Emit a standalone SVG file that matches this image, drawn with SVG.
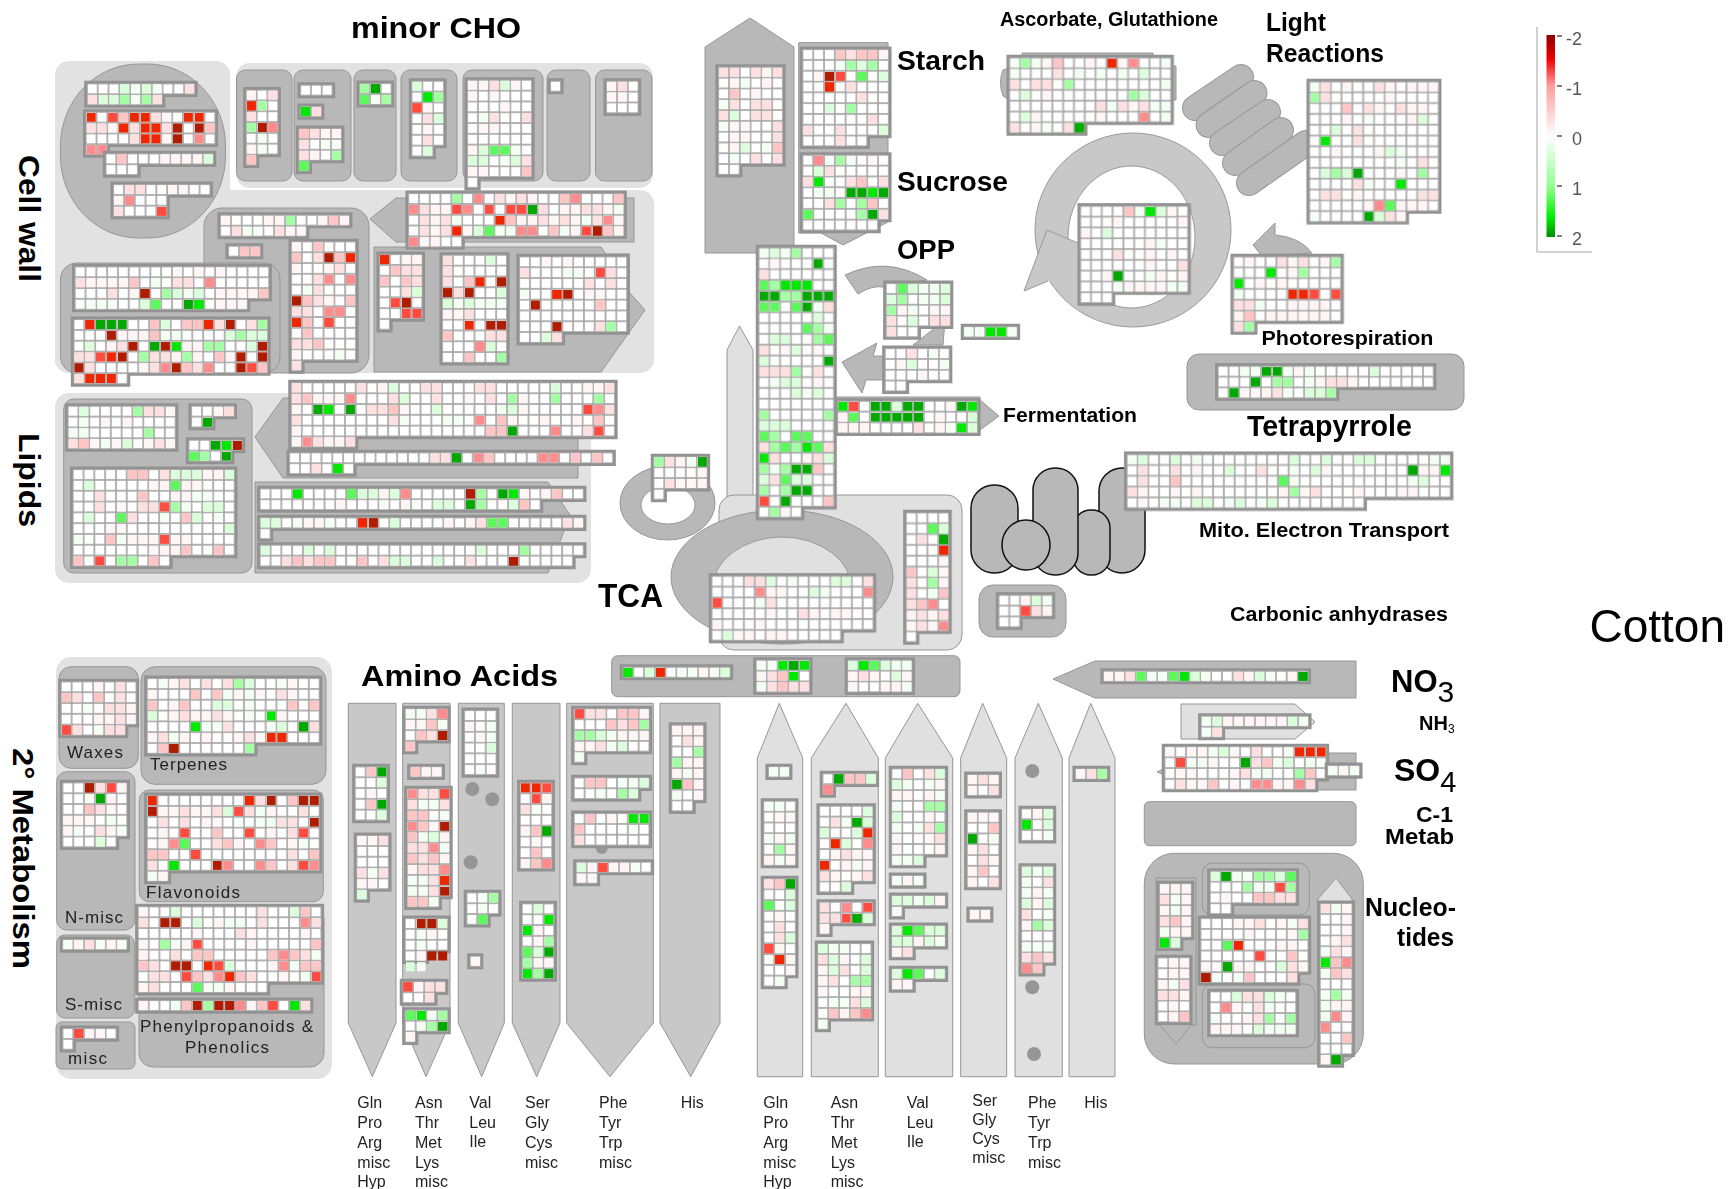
<svg xmlns="http://www.w3.org/2000/svg" width="1733" height="1189" viewBox="0 0 1733 1189">
<defs>
<style>
text{font-family:"Liberation Sans",Arial,sans-serif;fill:#000}
.B{font-weight:bold}.L{font-size:16px;fill:#222}.S{font-size:17px;fill:#222}
path{fill:none}
.P{fill:#e2e2e2!important}
.Q{fill:#b8b8b8!important;stroke:#969696;stroke-width:1}
.D{fill:#c8c8c8!important;stroke:#969696;stroke-width:1}
.E{fill:#e0e0e0!important;stroke:#969696;stroke-width:1}
.M{fill:#b8b8b8!important;stroke:#111;stroke-width:1.5}
.R{fill:#c8c8c8!important;stroke:#999;stroke-width:1}
.P,.Q,.D,.E,.M,.R{stroke-linejoin:round}
.dot{fill:#969696}
.o{fill:url(#t);stroke:#929292;stroke-width:.5;paint-order:stroke;transform:translate(-.08px,-.08px)}
.a{marker:url(#a)}.b{marker:url(#b)}.c{marker:url(#c)}.d{marker:url(#d)}.e{marker:url(#e)}.f{marker:url(#f)}.g{marker:url(#g)}
.h{marker:url(#h)}.i{marker:url(#i)}.j{marker:url(#j)}.k{marker:url(#k)}.l{marker:url(#l)}.m{marker:url(#m)}
</style>
<filter id="bl" filterUnits="userSpaceOnUse" x="0" y="0" width="1733" height="1189"><feGaussianBlur stdDeviation=".4"/></filter>
<pattern id="t" patternUnits="userSpaceOnUse" width="1" height="1"><rect width="1" height="1" fill="#a8a8a8"/><rect x=".08" y=".08" width=".84" height=".84" fill="#fff"/></pattern>
<linearGradient id="lg" x1="0" y1="0" x2="0" y2="1"><stop offset="0" stop-color="#8c0000"/><stop offset=".12" stop-color="#f00000"/><stop offset=".25" stop-color="#ff9c9c"/><stop offset=".5" stop-color="#fff"/><stop offset=".75" stop-color="#90ff90"/><stop offset=".9" stop-color="#00f000"/><stop offset="1" stop-color="#008c00"/></linearGradient>
<marker id="a" markerUnits="userSpaceOnUse" markerWidth="1" markerHeight="1"><rect width=".84" height=".84" fill="#fff5f5"/></marker>
<marker id="b" markerUnits="userSpaceOnUse" markerWidth="1" markerHeight="1"><rect width=".84" height=".84" fill="#ffe0e0"/></marker>
<marker id="c" markerUnits="userSpaceOnUse" markerWidth="1" markerHeight="1"><rect width=".84" height=".84" fill="#ffc4c4"/></marker>
<marker id="d" markerUnits="userSpaceOnUse" markerWidth="1" markerHeight="1"><rect width=".84" height=".84" fill="#ff8c8c"/></marker>
<marker id="e" markerUnits="userSpaceOnUse" markerWidth="1" markerHeight="1"><rect width=".84" height=".84" fill="#ff4c40"/></marker>
<marker id="f" markerUnits="userSpaceOnUse" markerWidth="1" markerHeight="1"><rect width=".84" height=".84" fill="#f02800"/></marker>
<marker id="g" markerUnits="userSpaceOnUse" markerWidth="1" markerHeight="1"><rect width=".84" height=".84" fill="#b01c00"/></marker>
<marker id="h" markerUnits="userSpaceOnUse" markerWidth="1" markerHeight="1"><rect width=".84" height=".84" fill="#f2fff2"/></marker>
<marker id="i" markerUnits="userSpaceOnUse" markerWidth="1" markerHeight="1"><rect width=".84" height=".84" fill="#daffda"/></marker>
<marker id="j" markerUnits="userSpaceOnUse" markerWidth="1" markerHeight="1"><rect width=".84" height=".84" fill="#a4ffa4"/></marker>
<marker id="k" markerUnits="userSpaceOnUse" markerWidth="1" markerHeight="1"><rect width=".84" height=".84" fill="#5cf85c"/></marker>
<marker id="l" markerUnits="userSpaceOnUse" markerWidth="1" markerHeight="1"><rect width=".84" height=".84" fill="#00e800"/></marker>
<marker id="m" markerUnits="userSpaceOnUse" markerWidth="1" markerHeight="1"><rect width=".84" height=".84" fill="#00a800"/></marker>
</defs>
<rect width="1733" height="1189" fill="#fff"/>
<g id="backgrounds">
<rect class="P" x="55" y="61" width="175" height="312" rx="14"/><rect class="P" x="236" y="63" width="417" height="125" rx="14"/><rect class="P" x="55" y="190" width="599" height="183" rx="14"/>
<rect class="P" x="55" y="393" width="536" height="190" rx="14"/>
<rect class="P" x="56" y="657" width="276" height="422" rx="15"/>
<rect class="Q" x="60.5" y="64" width="165" height="174" rx="78" ry="82"/>
<rect class="Q" x="236.5" y="70" width="55.5" height="111" rx="9"/><rect class="Q" x="294" y="70" width="57" height="111" rx="9"/><rect class="Q" x="354" y="70" width="42" height="111" rx="9"/><rect class="Q" x="401" y="70" width="56" height="111" rx="9"/><rect class="Q" x="463" y="70" width="80" height="111" rx="9"/><rect class="Q" x="547" y="70" width="43" height="111" rx="9"/><rect class="Q" x="595.5" y="70" width="56.5" height="111" rx="9"/>
<rect class="Q" x="204" y="208" width="165" height="165" rx="18"/>
<rect class="Q" x="60.5" y="263" width="219.5" height="110" rx="16"/>
<path class="Q" d="M370 219 396 198H634V242H396Z"/>
<path class="Q" d="M374 247H601L606 254H629V292L645 310 601 372H374Z"/>
<rect class="Q" x="63.7" y="399" width="188.3" height="174" rx="10"/>
<path class="Q" d="M255 437 283 398H578V478H283Z"/>
<path class="Q" d="M255 482H548L570 515 548 573H255Z"/>
<rect class="Q" x="59" y="666.7" width="79.3" height="101.6" rx="12"/><rect class="Q" x="141" y="666.7" width="185" height="117.6" rx="14"/><rect class="Q" x="56.7" y="771.7" width="78.3" height="158.3" rx="10"/><rect class="Q" x="139.3" y="790" width="184" height="111.7" rx="10"/><rect class="Q" x="56.7" y="935" width="77.6" height="83" rx="8"/><rect class="Q" x="56" y="1022" width="79" height="47" rx="6"/><rect class="Q" x="139" y="905" width="185" height="162" rx="14"/>
<path class="Q" d="M705 47 750 18 794 47V253H705Z"/>
<rect class="Q" x="798.7" y="42.7" width="89.3" height="114"/>
<path class="Q" d="M798.7 157H888V222L843 245 821 233H798.7Z"/>
<path class="Q" d="M845 275Q887 255 927 280L883 287Q872 285 858 294Z"/>
<path class="Q" d="M913 345 945 320 943 345Z"/>
<path class="Q" d="M842 362 877 343 873 356H890V380H866L862 393Z"/>
<path class="Q" d="M835 397H980V400L999 416 980 430V435H835Z"/>
<path class="Q" d="M1022 53H1153V66H1176V100H1153V110H1022V107L1003 96Q998 82 1003 70L1022 64Z"/>
<path class="R" style="fill-rule:evenodd" d="M1035 230A98 97 0 1 1 1231 230 98 97 0 1 1 1035 230ZM1068 237A63.500 71 0 1 0 1195 237 63.500 71 0 1 0 1068 237Z"/>
<path d="M1047 230 1078 243 1080 283 1048 281 1024 291Z" style="fill:#c8c8c8"/>
<path d="M1078 243 1047 230 1024 291 1048 281" stroke="#999"/>
<path d="M1195 108 1241 77" stroke="#969696" stroke-width="26" stroke-linecap="round"/><path d="M1195 108 1241 77" stroke="#b8b8b8" stroke-width="24" stroke-linecap="round"/><path d="M1208.600 125 1254.500 93" stroke="#969696" stroke-width="26" stroke-linecap="round"/><path d="M1208.600 125 1254.500 93" stroke="#b8b8b8" stroke-width="24" stroke-linecap="round"/><path d="M1222 143 1268 112" stroke="#969696" stroke-width="26" stroke-linecap="round"/><path d="M1222 143 1268 112" stroke="#b8b8b8" stroke-width="24" stroke-linecap="round"/><path d="M1235 163 1281 130" stroke="#969696" stroke-width="26" stroke-linecap="round"/><path d="M1235 163 1281 130" stroke="#b8b8b8" stroke-width="24" stroke-linecap="round"/><path d="M1249 183 1306 143" stroke="#969696" stroke-width="26" stroke-linecap="round"/><path d="M1249 183 1306 143" stroke="#b8b8b8" stroke-width="24" stroke-linecap="round"/>
<path class="Q" d="M1253 245 1275 223V235Q1300 237 1312 253L1262 256Z"/>
<rect class="Q" x="1187" y="354" width="277" height="56" rx="12"/>
<rect class="M" x="971" y="485" width="47" height="88" rx="23"/><rect class="M" x="1099" y="468" width="46" height="105" rx="23"/><rect class="M" x="1073" y="510" width="37" height="65" rx="18"/><rect class="M" x="1033" y="468" width="45" height="107" rx="22"/><ellipse class="M" cx="1026" cy="545" rx="24" ry="25"/>
<rect class="Q" x="979" y="585" width="87" height="52" rx="14"/>
<path class="Q" style="fill-rule:evenodd" d="M620 503A47.500 37 0 1 1 715 503 47.500 37 0 1 1 620 503ZM641 505A27 19 0 1 0 695 505 27 19 0 1 0 641 505Z"/>
<path class="E" d="M727 350 739.500 326 753 350V497H727Z"/>
<rect class="E" x="719" y="495" width="243" height="155" rx="15"/>
<ellipse class="Q" cx="782" cy="577" rx="111" ry="67"/><ellipse class="E" cx="782" cy="590" rx="70" ry="53"/>
<rect class="Q" x="611.700" y="655.700" width="348.300" height="41" rx="6"/>
<path class="Q" d="M1053 679 1095 661H1356V698H1095Z"/>
<path class="E" d="M1181 704 1295 704 1315 722 1295 739H1181Z"/>
<path class="Q" d="M1157 772 1165 768V775ZM1300 753H1356V790H1300Z"/>
<rect class="Q" x="1144.300" y="801.700" width="211.700" height="44" rx="5"/>
<rect class="Q" x="1144.300" y="853.300" width="219" height="210.700" rx="30"/>
<path class="Q" d="M1156 878H1196V1025H1191L1176 1044 1160 1025H1156Z"/>
<rect class="Q" x="1202.300" y="863.300" width="107" height="51.700" rx="10"/><rect class="Q" x="1202.300" y="984" width="112.700" height="63.700" rx="10"/>
<path class="E" d="M1336 878 1352 899V905H1318V899Z"/>
<path class="D" d="M348.300 703.300H396V1023L372.300 1076.700 348.300 1023Z"/><path class="D" d="M402.700 703.300H450V1023L426 1076.700 402.700 1023Z"/><path class="D" d="M458.300 703.300H504.300V1023L481.700 1076.700 458.300 1023Z"/><path class="D" d="M512.300 703.300H560V1023L536.700 1076.700 512.300 1023Z"/><path class="D" d="M566.700 703.300H653.300V1023L610 1076.700 566.700 1023Z"/><path class="D" d="M660 703.300H720V1023L690.700 1076.700 660 1023Z"/>
<path class="E" d="M779.300 703.300 802.700 758V1076.700H757.300V758Z"/><path class="E" d="M846 703.300 878.300 758V1076.700H811.300V758Z"/><path class="E" d="M917.700 703.300 952.700 758V1076.700H885.300V758Z"/><path class="E" d="M982.700 703.300 1006.700 758V1076.700H960.700V758Z"/><path class="E" d="M1038.300 703.300 1062.300 758V1076.700H1015V758Z"/><path class="E" d="M1090.700 703.300 1115 758V1076.700H1069V758Z"/>
<circle class="dot" cx="472.300" cy="789" r="7"/><circle class="dot" cx="492.300" cy="799.300" r="7"/><circle class="dot" cx="470.700" cy="862.300" r="7"/><circle class="dot" cx="601.700" cy="848" r="6"/>
<circle class="dot" cx="1032.300" cy="771" r="7"/><circle class="dot" cx="1032.300" cy="987.300" r="7"/><circle class="dot" cx="1034" cy="1054" r="7"/>
</g>
<g id="grids" filter="url(#bl)">
<g id="cw1" transform="translate(87.800 84.300) scale(10.800)"><path class="o" d="M0 0H10V1H7V2H0Z"/><path class="b" d="M9 0 0 1 6 1"/><path class="h" d="M4 0 6 0 4 1"/><path class="i" d="M3 0 5 0 1 1 2 1"/><path class="j" d="M3 1 5 1"/></g>
<g id="cw2" transform="translate(86.600 112.700) scale(10.800)"><path class="o" d="M0 0H12V3H2V4H0Z"/><path class="a" d="M7 0 2 1 7 2 4 2"/><path class="b" d="M6 0 0 1 1 1 4 1 7 1 4 2"/><path class="c" d="M3 0 11 1"/><path class="d" d="M10 2 0 3 1 3"/><path class="e" d="M2 0 2 0"/><path class="f" d="M0 0 4 0 9 0 10 0 3 1 5 1 6 1 5 2 6 2 5 0"/><path class="g" d="M8 1 10 1 8 2"/></g>
<g id="cw3" transform="translate(106.400 154.300) scale(10.800)"><path class="o" d="M0 0H10V1H3V2H0Z"/><path class="a" d="M5 0 6 0 7 0 8 0"/><path class="c" d="M1 0 1 0"/><path class="i" d="M9 0 9 0"/></g>
<g id="cw4" transform="translate(114 185) scale(10.800)"><path class="o" d="M0 0H9V1H5V3H0Z"/><path class="b" d="M1 0 2 0 0 2"/><path class="a" d="M5 0 6 0 0 1"/><path class="d" d="M1 1 1 1"/><path class="e" d="M4 2 4 2"/></g>
<g id="cw5" transform="translate(246.700 90.500) scale(10.800)"><path class="o" d="M0 0H3V6H1V7H0Z"/><path class="a" d="M0 0 1 1 0 5"/><path class="b" d="M2 0 0 2"/><path class="c" d="M0 6 0 6"/><path class="d" d="M2 3 2 3"/><path class="f" d="M0 1 0 1"/><path class="g" d="M1 3 1 3"/><path class="h" d="M1 4 1 5"/><path class="j" d="M1 1 0 3"/></g>
<g id="cw6" transform="translate(301 85.700) scale(10.800)"><path class="o" d="M0 0H3V1H0Z"/></g>
<g id="cw7" transform="translate(301 107) scale(10.800)"><path class="o" d="M0 0H2V1H0Z"/><path class="l" d="M0 0 0 0"/><path class="b" d="M1 0 1 0"/></g>
<g id="cw8" transform="translate(299.400 129) scale(10.800)"><path class="o" d="M0 0H4V3H1V4H0Z"/><path class="a" d="M2 0 3 0 1 2"/><path class="b" d="M1 0 0 1 0 2"/><path class="c" d="M0 0 0 0"/><path class="h" d="M2 1 3 1"/><path class="j" d="M3 2 3 2"/><path class="k" d="M0 3 0 3"/></g>
<g id="cw9" transform="translate(360 84) scale(10.800)"><path class="o" d="M0 0H3V2H0Z"/><path class="j" d="M0 0 2 1"/><path class="m" d="M1 0 1 0"/><path class="k" d="M0 1 0 1"/><path class="h" d="M1 1 1 1"/></g>
<g id="cw10" transform="translate(412.400 81.700) scale(10.800)"><path class="o" d="M0 0H3V6H2V7H0Z"/><path class="i" d="M0 0 2 3 1 6"/><path class="l" d="M1 1 1 1"/><path class="j" d="M2 1 2 1"/><path class="e" d="M0 2 0 2"/><path class="b" d="M1 3 1 5"/><path class="a" d="M1 2 1 4"/></g>
<g id="cw11" transform="translate(468 80.700) scale(10.800)"><path class="o" d="M0 0H6V9H1V10H0Z"/><path class="a" d="M0 0 1 0 4 0 0 1 1 4 2 4 0 6 0 8 1 8 3 2 2 1"/><path class="b" d="M2 0 2 3 5 3 5 7"/><path class="c" d="M5 8 5 8"/><path class="i" d="M3 0 1 6 0 7 1 7 4 7"/><path class="k" d="M2 6 3 6"/><path class="h" d="M1 3 4 6 3 7"/></g>
<g id="cw12" transform="translate(551 81.700) scale(10.800)"><path class="o" d="M0 0H1V1H0Z"/></g>
<g id="cw13" transform="translate(607 81.700) scale(10.800)"><path class="o" d="M0 0H3V3H0Z"/><path class="a" d="M0 0 0 1 1 1"/><path class="b" d="M1 0 1 0"/></g>
<g id="cw14" transform="translate(221 215.700) scale(10.800)"><path class="o" d="M0 0H12V1H8V2H0Z"/><path class="a" d="M0 0 5 0 4 0 11 0 9 0 5 1 6 1 7 1"/><path class="b" d="M1 1 5 1"/><path class="c" d="M10 0 10 0"/><path class="j" d="M6 0 6 0"/><path class="h" d="M2 1 3 1"/></g>
<g id="cw15" transform="translate(229 246.700) scale(10.800)"><path class="o" d="M0 0H3V1H0Z"/><path class="c" d="M1 0 2 0"/></g>
<g id="cw16" transform="translate(292 242.300) scale(10.800)"><path class="o" d="M0 0H6V11H1V12H0Z"/><path class="a" d="M0 0 0 2 3 2 1 9 0 10 3 5 3 7"/><path class="b" d="M2 1 4 2 2 3 2 4 1 6 0 6 2 5 0 9 1 9 0 11"/><path class="c" d="M2 0 0 1 4 1 1 5 5 5 1 7 1 8 2 9"/><path class="d" d="M3 3 5 3 3 6 4 6"/><path class="e" d="M3 7 3 7"/><path class="f" d="M5 1 0 7"/><path class="g" d="M3 1 0 5"/><path class="h" d="M1 4 4 10"/></g>
<g id="cw17" transform="translate(75.600 267.300) scale(10.800)"><path class="o" d="M0 0H18V3H16V4H0Z"/><path class="a" d="M9 0 11 0 13 0 0 1 1 1 2 1 3 1 4 1 3 2 5 2 13 2 14 2 15 2 16 2 13 3 14 3 15 3"/><path class="b" d="M0 1 9 1 10 1 3 2 9 2"/><path class="c" d="M5 1 17 2"/><path class="d" d="M12 1 12 1"/><path class="g" d="M6 2 6 2"/><path class="h" d="M7 1 8 2 1 3 2 3 3 3 10 2 7 3"/><path class="i" d="M9 2 11 2 6 3"/><path class="j" d="M8 2 8 2"/><path class="k" d="M7 3 7 3"/><path class="m" d="M10 3 10 3"/><path class="l" d="M11 3 11 3"/></g>
<g id="cw18" transform="translate(74.400 320) scale(10.800)"><path class="o" d="M0 0H18V5H5V6H0Z"/><path class="a" d="M5 1 6 1 3 2 10 2 11 2 4 1 9 3 12 4 14 3 11 3 6 4"/><path class="b" d="M13 0 16 0 0 3 1 3 4 2 7 3 8 3 1 4 7 4 11 4 0 5 4 0"/><path class="c" d="M7 0 10 0 11 0 7 1 10 4 17 4 13 3"/><path class="d" d="M12 4 8 4"/><path class="e" d="M2 3 16 4"/><path class="f" d="M1 0 12 0 1 5 2 5 3 5 3 3"/><path class="g" d="M14 0 3 1 5 2 8 2 17 2 4 3 15 3 17 3 0 4 9 4 15 4"/><path class="h" d="M8 1 9 1 16 1"/><path class="i" d="M8 0 14 1 16 1 17 1 1 2 16 2"/><path class="j" d="M17 0 15 1 12 2 13 2 6 3 10 3"/><path class="l" d="M9 2 9 2"/><path class="m" d="M2 0 3 0 4 0 7 2"/></g>
<g id="cw19" transform="translate(409 194) scale(10.800)"><path class="o" d="M0 0H20V4H5V5H0Z"/><path class="a" d="M9 0 11 0 2 1 3 1 14 1 15 1 18 1 2 2 10 2 11 2 13 2 15 2 19 2 2 3 5 3 15 3 19 3 1 4 2 4"/><path class="b" d="M8 0 10 0 1 1 12 1 16 1 17 1 1 2 3 2 12 2 14 2 17 2 1 3 3 3"/><path class="c" d="M14 0 19 0 9 2 13 3 18 3"/><path class="d" d="M6 0 15 0 0 1 5 1 18 2 10 3 11 3 0 4"/><path class="e" d="M4 1 7 1 9 1 10 1 16 3"/><path class="f" d="M8 2 4 3"/><path class="g" d="M17 3 17 3"/><path class="h" d="M19 1 4 2 16 2 14 3 8 3 9 3"/><path class="i" d="M6 3 6 3"/><path class="j" d="M4 0 4 0"/><path class="k" d="M7 3 7 3"/><path class="m" d="M11 1 11 1"/></g>
<g id="cw20" transform="translate(380 255) scale(10.800)"><path class="o" d="M0 0H4V6H1V7H0Z"/><path class="a" d="M2 0 3 0"/><path class="b" d="M2 1 3 1 3 2 2 3"/><path class="c" d="M1 1 0 2 2 2"/><path class="e" d="M1 4 2 5 3 5"/><path class="f" d="M0 0 0 0"/><path class="g" d="M2 4 2 4"/><path class="i" d="M3 3 3 3"/></g>
<g id="cw21" transform="translate(443 255.700) scale(10.800)"><path class="o" d="M0 0H6V10H0Z"/><path class="a" d="M0 5 1 5"/><path class="b" d="M0 0 0 1 0 2 1 3 2 5 4 7 5 7"/><path class="c" d="M2 2 0 7 2 9"/><path class="d" d="M3 8 3 8"/><path class="f" d="M3 2 2 6"/><path class="g" d="M5 2 0 3 2 3 4 6 5 6"/><path class="h" d="M1 4 3 4 4 4 5 4"/><path class="i" d="M4 0 5 3 0 4 2 4 4 8"/><path class="j" d="M5 9 5 9"/></g>
<g id="cw22" transform="translate(520 257.300) scale(10.800)"><path class="o" d="M0 0H10V7H4V8H0Z"/><path class="a" d="M2 0 4 0 5 1 6 3 7 3"/><path class="b" d="M0 1 8 1 6 2 8 2 7 4 7 6 3 7"/><path class="c" d="M7 4 7 4"/><path class="e" d="M7 1 7 1"/><path class="f" d="M3 3 3 3"/><path class="g" d="M4 3 1 4 3 6"/><path class="h" d="M4 1 5 1 0 3"/><path class="i" d="M2 7 2 7"/><path class="j" d="M8 6 8 6"/></g>
<g id="li1" transform="translate(68.500 406.700) scale(10.800)"><path class="o" d="M0 0H10V4H0Z"/><path class="a" d="M9 0 2 3 4 3 7 3 9 3 3 1 5 1"/><path class="b" d="M7 0 8 0 0 3 8 3"/><path class="c" d="M1 3 1 3"/><path class="h" d="M1 1 0 2 1 2 3 3"/><path class="i" d="M1 0 5 3"/><path class="j" d="M6 0 7 2"/></g>
<g id="li2" transform="translate(192 406.700) scale(10.800)"><path class="o" d="M0 0H4V1H2V2H0Z"/><path class="a" d="M2 0 2 0"/><path class="b" d="M3 0 3 0"/><path class="m" d="M1 1 1 1"/></g>
<g id="li3" transform="translate(189.400 440.700) scale(10.800)"><path class="o" d="M0 0H5V1H4V2H0Z"/><path class="m" d="M2 0 3 1"/><path class="l" d="M3 0 3 0"/><path class="g" d="M4 0 4 0"/><path class="k" d="M0 1 0 1"/><path class="j" d="M1 1 1 1"/></g>
<g id="li4" transform="translate(73.600 470) scale(10.800)"><path class="o" d="M0 0H15V8H9V9H0Z"/><path class="a" d="M12 0 13 0 7 1 8 1 10 1 11 1 4 3 9 2 10 2 4 5 5 6 6 6 13 3 3 5 7 6 9 6 10 6 7 7 8 7 9 7"/><path class="b" d="M2 2 2 3 6 3 7 3 5 4 3 6 8 0"/><path class="c" d="M5 0 6 0 6 2 10 4 3 6 10 7 13 7 0 8 7 8"/><path class="e" d="M8 3 8 6 2 8"/><path class="h" d="M10 3 12 3 8 4 13 4 11 2 12 2 0 6 4 6"/><path class="i" d="M9 0 10 0 11 0 14 0 1 1 12 3 13 3 11 4 1 4 14 5"/><path class="j" d="M9 3 4 8 5 8"/><path class="k" d="M9 1 4 4"/></g>
<g id="li5" transform="translate(291.800 383.300) scale(10.800)"><path class="o" d="M0 0H30V5H6V6H0Z"/><path class="a" d="M8 0 27 0 28 0 2 1 3 1 4 1 0 2 10 2 21 2 0 4 29 0 21 1 16 1 23 3 26 3 20 3 3 5 4 5 0 5"/><path class="b" d="M0 0 6 0 12 0 13 0 17 0 18 0 29 0 0 1 9 1 13 1 18 1 7 2 8 2 0 3 9 3 29 2 27 4 2 5 5 5"/><path class="c" d="M1 1 9 2 19 3 18 4 19 4 28 3"/><path class="d" d="M5 1 17 3 28 2 24 4 1 5"/><path class="e" d="M27 2 28 4"/><path class="h" d="M19 2 10 3 14 3 15 3"/><path class="i" d="M9 0 24 0 10 1 13 2 20 2"/><path class="j" d="M20 1 24 1 28 1"/><path class="l" d="M3 2 3 2"/><path class="m" d="M2 2 5 2 20 4"/></g>
<g id="li6" transform="translate(290 453.300) scale(10.800)"><path class="o" d="M0 0H30V1H6V2H0Z"/><path class="b" d="M13 0 14 0 2 1"/><path class="m" d="M15 0 15 0"/><path class="d" d="M17 0 23 0 24 0"/><path class="c" d="M18 0 26 0 28 0"/><path class="l" d="M4 1 4 1"/></g>
<g id="li7" transform="translate(260.600 489.300) scale(10.800)"><path class="o" d="M0 0H30V1H26V2H0Z"/><path class="a" d="M11 0 24 0 26 0 7 1 13 1"/><path class="c" d="M27 0 24 1"/><path class="d" d="M13 0 13 0"/><path class="g" d="M19 0 19 0"/><path class="h" d="M14 1 9 0 11 1"/><path class="i" d="M9 0 10 0 12 0 16 1 17 1 23 1"/><path class="j" d="M20 0 20 1"/><path class="k" d="M8 0 8 0"/><path class="l" d="M3 0 23 0"/><path class="m" d="M22 0 19 1"/></g>
<g id="li8" transform="translate(260.600 518.300) scale(10.800)"><path class="o" d="M0 0H30V1H1V2H0Z"/><path class="i" d="M0 0 1 0 12 0"/><path class="h" d="M3 0 6 0"/><path class="a" d="M4 0 5 0 17 0 19 0 29 0"/><path class="b" d="M28 0 20 0"/><path class="f" d="M9 0 9 0"/><path class="g" d="M10 0 10 0"/><path class="k" d="M21 0 22 0"/></g>
<g id="li9" transform="translate(260.600 545.700) scale(10.800)"><path class="o" d="M0 0H30V1H29V2H0Z"/><path class="i" d="M0 0 4 0 6 0 20 0 12 1 13 1 16 1"/><path class="j" d="M24 0 24 0"/><path class="b" d="M2 1 4 1 11 1 19 1"/><path class="c" d="M3 1 5 1 6 1 9 1"/><path class="g" d="M23 1 23 1"/></g>
<g id="se1" transform="translate(61.700 682.300) scale(10.800)"><path class="o" d="M0 0H7V4H6V5H0Z"/><path class="a" d="M3 0 4 3 3 3 6 2 6 3"/><path class="b" d="M5 0 1 1 4 2 5 2 5 3 1 4 4 4 5 4 5 1"/><path class="c" d="M0 1 3 1"/><path class="e" d="M0 4 0 4"/><path class="h" d="M3 4 2 2"/></g>
<g id="se2" transform="translate(147.700 679) scale(10.800)"><path class="o" d="M0 0H16V6H10V7H0Z"/><path class="a" d="M2 0 13 0 0 1 8 1 10 1 13 1 2 2 2 3 4 3 5 3 7 3 12 3 0 5 3 5 5 5 8 5 10 5"/><path class="b" d="M3 0 5 0 7 0 12 1 6 3 3 3 15 4 7 4 1 5 9 5"/><path class="c" d="M4 1 6 1 0 2 3 2 13 2 15 2 1 6"/><path class="f" d="M11 5 12 5"/><path class="g" d="M2 6 2 6"/><path class="h" d="M1 0 12 0 7 1 9 1 9 2 9 3 5 4 6 4 11 4 2 5"/><path class="i" d="M9 0 6 2 7 2 0 3 12 4"/><path class="j" d="M8 0 9 6"/><path class="l" d="M11 3 4 4"/><path class="m" d="M14 4 14 4"/></g>
<g id="se3" transform="translate(63.300 783.300) scale(10.800)"><path class="o" d="M0 0H6V5H5V6H0Z"/><path class="a" d="M5 0 4 1 4 2 0 3 1 3 2 3 0 4 4 4"/><path class="b" d="M3 0 3 2 3 4"/><path class="c" d="M2 2 2 2"/><path class="e" d="M4 0 4 0"/><path class="g" d="M2 0 2 0"/><path class="h" d="M2 1 4 3 1 4 5 4"/><path class="i" d="M3 5 3 5"/><path class="m" d="M3 1 3 1"/></g>
<g id="se4" transform="translate(63.300 940) scale(10.800)"><path class="o" d="M0 0H6V1H0Z"/><path class="h" d="M0 0 3 0 5 0"/><path class="a" d="M1 0 4 0"/><path class="b" d="M2 0 2 0"/></g>
<g id="se5" transform="translate(63.300 1029) scale(10.800)"><path class="o" d="M0 0H5V1H1V2H0Z"/><path class="e" d="M1 0 1 0"/><path class="a" d="M2 0 3 0"/></g>
<g id="se6" transform="translate(147.700 796) scale(10.800)"><path class="o" d="M0 0H16V7H2V8H0Z"/><path class="a" d="M1 1 2 1 4 1 5 1 3 2 5 2 6 2 11 1 1 3 11 3 1 4 8 4 13 4 1 7"/><path class="b" d="M3 1 6 1 9 1 14 1 1 2 3 2 12 2 13 2 13 3 6 4 13 5 0 6 13 6 10 0"/><path class="c" d="M13 0 6 3 7 4 11 4 0 5 1 5 11 6 15 5"/><path class="d" d="M2 4 7 6 10 6 15 6 10 4"/><path class="e" d="M8 1 3 3 9 3 14 3 4 5 14 6"/><path class="f" d="M0 0 9 0"/><path class="g" d="M11 0 14 0 15 0 0 1 15 2 6 6"/><path class="h" d="M10 1 8 2 10 2 11 2 14 4 0 7"/><path class="i" d="M7 1 7 1"/><path class="k" d="M3 4 3 4"/><path class="l" d="M2 6 2 6"/></g>
<g id="se7" transform="translate(138.700 907.300) scale(10.800)"><path class="o" d="M0 0H17V7H12V8H0Z"/><path class="a" d="M0 0 7 1 5 2 10 2 15 2 0 3 4 3 10 3 0 4 12 5 13 6 0 7 8 7"/><path class="b" d="M11 0 0 1 11 1 16 1 9 2 3 4 15 4 1 5 1 6 2 6 6 6 10 6 1 7"/><path class="c" d="M15 0 16 3 5 4 6 4 12 4 14 4 0 5 15 5 16 5 5 6 9 6"/><path class="d" d="M15 1 13 4 13 5 7 6"/><path class="e" d="M5 3 7 5 4 6 16 6"/><path class="f" d="M6 5 8 6"/><path class="g" d="M2 1 3 1 3 5 4 5"/><path class="h" d="M8 1 9 1 3 3 16 4 14 5 15 6 6 7 7 7"/><path class="i" d="M3 0 14 0 5 1 8 5"/><path class="j" d="M2 3 2 3"/><path class="k" d="M5 7 5 7"/></g>
<g id="se8" transform="translate(138.700 1001) scale(10.800)"><path class="o" d="M0 0H16V1H0Z"/><path class="a" d="M0 0 10 0"/><path class="h" d="M3 0 3 0"/><path class="c" d="M4 0 11 0"/><path class="g" d="M5 0 7 0 8 0"/><path class="j" d="M6 0 6 0"/><path class="d" d="M9 0 9 0"/><path class="e" d="M12 0 12 0"/><path class="l" d="M14 0 14 0"/><path class="b" d="M15 0 15 0"/></g>
<g id="st0" transform="translate(719 67.700) scale(10.800)"><path class="o" d="M0 0H6V9H2V10H0Z"/><path class="a" d="M4 0 1 1 4 1 1 5 2 5 1 6 2 6 1 7 3 2"/><path class="b" d="M0 0 1 0 3 0 5 0 1 3 3 3 4 3 0 4 3 4 4 4 5 5 5 6 3 8 5 8"/><path class="c" d="M1 2 5 7"/><path class="h" d="M2 1 0 3 0 5 4 7 1 8"/><path class="i" d="M1 4 2 7"/></g>
<g id="st1" transform="translate(803.300 50) scale(10.800)"><path class="o" d="M0 0H8V8H6V9H0Z"/><path class="a" d="M7 0 1 2"/><path class="b" d="M4 0 4 3 5 4 6 6 0 7 3 7 3 8"/><path class="c" d="M3 0 5 0 6 0"/><path class="e" d="M3 2 3 2"/><path class="f" d="M2 3 2 3"/><path class="g" d="M2 2 2 2"/><path class="h" d="M3 1 2 5"/><path class="i" d="M5 1 7 2 2 5 7 7"/><path class="j" d="M4 1 6 1 4 5"/><path class="k" d="M5 2 5 2"/></g>
<g id="st2" transform="translate(803.300 155.700) scale(10.800)"><path class="o" d="M0 0H8V6H7V7H0Z"/><path class="a" d="M6 0 2 1"/><path class="b" d="M2 1 0 2 4 2 7 2 2 4 7 5"/><path class="c" d="M5 2 6 4"/><path class="d" d="M1 0 1 0"/><path class="h" d="M2 0 4 0 1 3 2 3"/><path class="i" d="M1 1 1 1"/><path class="j" d="M3 0 3 4 5 4 5 5"/><path class="k" d="M0 5 0 5"/><path class="l" d="M1 2 6 3"/><path class="m" d="M4 3 5 3 7 3 6 5"/></g>
<g id="gl" transform="translate(759.300 248.300) scale(10.800)"><path class="o" d="M0 0H7V24H4V25H0Z"/><path class="a" d="M1 1 2 9 5 11 5 12 2 24 5 9 4 19 1 5 4 5"/><path class="b" d="M0 2 6 5 0 9 0 11 1 11 2 11 0 18 6 18 1 19 5 19 1 21 5 11"/><path class="c" d="M5 20 6 23"/><path class="e" d="M0 23 0 23"/><path class="h" d="M0 0 2 0 2 4 5 5 5 13 1 12 3 9 6 7 4 13 3 13 1 20"/><path class="i" d="M1 0 3 9 5 6 1 8 2 8 0 10 2 12 3 12 3 13 5 13 0 16 1 16 2 16 3 21 4 21 0 21 6 19"/><path class="j" d="M3 0 1 3 2 4 3 4 5 7 0 15 1 17 1 18 3 18 5 8 3 11 0 20 2 20 0 22 2 22 1 24 6 15"/><path class="k" d="M0 3 0 5 1 5 4 7 3 5 6 8 0 17 3 17 4 17 2 18 5 18 2 21"/><path class="l" d="M2 3 3 3 4 3 4 18 0 19"/><path class="m" d="M5 1 0 4 1 4 4 4 5 4 6 4 4 5 6 10 3 20 4 20 3 22 4 22 2 23"/></g>
<g id="opp1" transform="translate(886.700 284) scale(10.800)"><path class="o" d="M0 0H6V4H3V5H0Z"/><path class="a" d="M1 2 4 2 5 2"/><path class="b" d="M0 3 4 3 5 3 0 4"/><path class="h" d="M3 0 4 0 3 1 4 1 2 2"/><path class="i" d="M2 0 5 0 0 1 5 1 2 3"/><path class="j" d="M1 1 0 2"/><path class="k" d="M1 0 1 0"/></g>
<g id="opp2" transform="translate(964.300 327.300) scale(10.800)"><path class="o" d="M0 0H5V1H0Z"/><path class="h" d="M0 0 1 0 4 0"/><path class="l" d="M2 0 3 0"/></g>
<g id="opp3" transform="translate(885.700 349) scale(10.800)"><path class="o" d="M0 0H6V3H2V4H0Z"/><path class="a" d="M1 1 3 2"/><path class="b" d="M2 0 2 0"/><path class="i" d="M2 1 2 1"/><path class="h" d="M4 0 5 1"/></g>
<g id="fe" transform="translate(838.300 401.700) scale(10.800)"><path class="o" d="M0 0H13V3H0Z"/><path class="a" d="M0 1 0 2 1 2 2 2 9 1 9 2 10 0"/><path class="b" d="M7 2 7 2"/><path class="e" d="M1 0 1 0"/><path class="h" d="M10 2 10 2"/><path class="i" d="M5 0 12 1 12 2"/><path class="k" d="M1 1 1 1"/><path class="l" d="M0 0 12 0 11 2"/><path class="m" d="M3 0 4 0 6 0 7 0 11 0 3 1 4 1 5 1 6 1 7 1"/></g>
<g id="sw" transform="translate(654.300 457.300) scale(10.800)"><path class="o" d="M0 0H5V3H1V4H0Z"/><path class="a" d="M2 0 4 1 2 2 3 2 4 2"/><path class="b" d="M1 0 1 2"/><path class="h" d="M3 0 3 0"/><path class="j" d="M0 0 0 0"/><path class="m" d="M4 0 4 0"/></g>
<g id="tca" transform="translate(712.300 576.700) scale(10.800)"><path class="o" d="M0 0H15V5H12V6H0Z"/><path class="a" d="M5 1 6 1 5 3 9 3 11 3 12 3 0 4 4 4 2 5 3 5 5 5 6 5"/><path class="b" d="M3 0 4 0 14 0 5 2 8 3"/><path class="d" d="M4 1 14 1"/><path class="e" d="M0 2 0 2"/><path class="h" d="M7 0 10 1 4 2"/><path class="i" d="M5 0 11 0 12 0 9 1 1 5"/></g>
<g id="ox" transform="translate(906.700 513.300) scale(10.800)"><path class="o" d="M0 0H4V11H1V12H0Z"/><path class="a" d="M3 4 3 5 3 6 0 9 2 9 0 10 2 10"/><path class="b" d="M1 2 0 6 0 7 0 8 1 9 3 9 1 10"/><path class="c" d="M0 5 3 7 1 8"/><path class="d" d="M2 8 3 10"/><path class="f" d="M3 3 3 3"/><path class="h" d="M2 7 2 7"/><path class="i" d="M3 1 2 5"/><path class="j" d="M2 6 2 6"/><path class="k" d="M2 1 2 1"/><path class="m" d="M3 2 3 2"/></g>
<g id="ca" transform="translate(999.300 595.700) scale(10.800)"><path class="o" d="M0 0H5V2H2V3H0Z"/><path class="a" d="M2 0 4 1"/><path class="i" d="M3 0 3 0"/><path class="h" d="M4 0 4 0"/><path class="e" d="M2 1 2 1"/><path class="b" d="M3 1 3 1"/></g>
<g id="bar1" transform="translate(623.300 667.700) scale(10.800)"><path class="o" d="M0 0H10V1H0Z"/><path class="l" d="M0 0 0 0"/><path class="i" d="M2 0 9 0"/><path class="f" d="M3 0 3 0"/><path class="h" d="M5 0 6 0 8 0"/><path class="a" d="M7 0 7 0"/></g>
<g id="bar2" transform="translate(756.700 660.700) scale(10.800)"><path class="o" d="M0 0H5V3H0Z"/><path class="h" d="M0 0 1 0 0 2"/><path class="l" d="M2 0 4 0 3 1"/><path class="m" d="M3 0 3 0"/><path class="a" d="M0 1 0 1"/><path class="b" d="M1 1 1 2 3 2 4 2"/><path class="c" d="M2 1 2 2"/></g>
<g id="bar3" transform="translate(848.300 660.700) scale(10.800)"><path class="o" d="M0 0H6V3H0Z"/><path class="i" d="M0 0 3 0 4 1"/><path class="l" d="M1 0 1 0"/><path class="k" d="M2 0 2 0"/><path class="h" d="M4 0 5 0 5 2"/><path class="a" d="M0 1 2 1 5 1 0 2 3 2 4 2"/><path class="b" d="M1 1 1 1"/></g>
<g id="asc" transform="translate(1010 58.300) scale(10.800)"><path class="o" d="M0 0H15V6H7V7H0Z"/><path class="a" d="M3 0 7 0 10 0 3 3 2 5 8 5 11 4 2 6"/><path class="b" d="M4 1 0 2 2 2 3 2 8 4 10 4 12 4 0 6 5 6"/><path class="c" d="M4 0 4 0"/><path class="d" d="M11 0 12 5"/><path class="f" d="M9 0 9 0"/><path class="h" d="M0 0 2 0 14 0 0 1 6 1 8 1 10 1 14 2 9 4 13 4 14 4 14 5 3 6"/><path class="i" d="M12 1 1 3 12 3 1 5"/><path class="j" d="M1 0 5 2 11 3"/><path class="m" d="M6 6 6 6"/></g>
<g id="cal" transform="translate(1081 206.700) scale(10.800)"><path class="o" d="M0 0H10V8H3V9H0Z"/><path class="a" d="M8 0 3 1 9 1 0 2 6 3 6 4 8 4 6 5 2 6 7 6 9 6 4 7 5 7 6 7 7 7"/><path class="b" d="M3 4 9 5"/><path class="c" d="M4 0 4 0"/><path class="h" d="M5 0 7 3 6 6 3 7 8 7 9 7"/><path class="i" d="M7 0 2 2"/><path class="l" d="M6 0 6 0"/><path class="m" d="M3 6 3 6"/></g>
<g id="lr" transform="translate(1310 82.300) scale(10.800)"><path class="o" d="M0 0H12V12H9V13H0Z"/><path class="a" d="M3 0 7 0 9 0 10 0 11 0 7 1 6 2 9 2 10 2 3 3 9 3 2 6 6 6 4 10 5 11 8 11 9 11 10 11 8 12 8 8"/><path class="b" d="M1 0 6 0 1 1 5 2 8 2 4 4 4 5 10 7 4 9 1 10 2 10 10 10 11 10 7 12"/><path class="c" d="M3 2 6 11"/><path class="d" d="M6 11 6 11"/><path class="h" d="M0 0 5 3 8 7 8 6 5 9 0 12"/><path class="i" d="M2 4 7 6 1 8 3 8 10 3 6 12"/><path class="j" d="M0 1 2 8 10 8"/><path class="k" d="M7 11 7 11"/><path class="l" d="M1 5 8 9"/><path class="m" d="M4 8 5 12"/></g>
<g id="ph" transform="translate(1234 257.300) scale(10.800)"><path class="o" d="M0 0H10V6H2V7H0Z"/><path class="a" d="M1 0 5 0 8 0 5 1 2 2 4 2 5 4 6 4 7 4 8 4 0 5 3 5 4 5 5 5 6 5 7 5 8 5"/><path class="b" d="M4 0 6 0 0 4 1 4 0 6"/><path class="c" d="M1 5 1 5"/><path class="e" d="M7 3 9 3"/><path class="f" d="M5 3 6 3"/><path class="h" d="M0 3 2 4"/><path class="j" d="M9 0 6 1 1 6"/><path class="l" d="M3 1 0 2"/></g>
<g id="tp" transform="translate(1218.600 366.700) scale(10.800)"><path class="o" d="M0 0H20V2H11V3H0Z"/><path class="a" d="M7 0 9 1 12 1 2 2 3 2 4 2"/><path class="b" d="M10 1 11 1 5 2"/><path class="h" d="M2 0 3 0 6 0 8 0 8 1 6 2"/><path class="i" d="M14 0 8 2 9 2"/><path class="j" d="M5 1 6 1 10 2"/><path class="m" d="M4 0 5 0 3 1 1 2"/></g>
<g id="mi" transform="translate(1127.500 455) scale(10.800)"><path class="o" d="M0 0H30V4H22V5H0Z"/><path class="a" d="M6 1 18 1 27 1 28 1 1 3 4 3 6 3 14 3 16 3 21 3 25 3 26 3 1 4"/><path class="b" d="M1 1 4 1 12 1 1 2 0 3 17 3"/><path class="c" d="M4 2 4 2"/><path class="h" d="M0 0 6 0 28 0 29 0 15 1 26 2 15 2 3 4 4 4 9 4 12 4"/><path class="i" d="M1 0 4 0 15 0 18 0 21 0 22 0 9 1 17 1 27 2 6 4 7 4 10 4 13 4"/><path class="j" d="M15 3 15 3"/><path class="k" d="M14 2 14 2"/><path class="l" d="M29 1 29 1"/><path class="m" d="M26 1 26 1"/></g>
<g id="no" transform="translate(1104 671.700) scale(10.800)"><path class="o" d="M0 0H19V1H0Z"/><path class="a" d="M0 0 1 0 13 0 17 0"/><path class="b" d="M2 0 12 0"/><path class="k" d="M3 0 6 0"/><path class="h" d="M4 0 5 0 9 0 15 0"/><path class="l" d="M7 0 7 0"/><path class="i" d="M8 0 14 0"/><path class="m" d="M18 0 18 0"/></g>
<g id="nh" transform="translate(1201.700 716.700) scale(10.800)"><path class="o" d="M0 0H10V1H2V2H0Z"/><path class="h" d="M0 0 9 0 0 1"/><path class="i" d="M1 0 8 0"/><path class="a" d="M2 0 3 0 4 0 5 0 6 0 7 0"/><path class="b" d="M1 1 1 1"/></g>
<g id="so" transform="translate(1165.300 747.300) scale(10.800)"><path class="o" d="M0 0H15V3H14V4H0Z"/><path class="a" d="M0 0 2 0 3 0 6 0 4 1 1 2 2 2 6 2 2 3 3 3 6 3 10 3 11 3"/><path class="b" d="M8 0 8 1 7 2 1 3 13 3"/><path class="c" d="M9 1 13 2 4 3"/><path class="d" d="M8 3 9 3 12 3"/><path class="e" d="M1 1 1 1"/><path class="f" d="M12 0 13 0 14 0"/><path class="h" d="M4 0 11 0 2 1 3 1 10 1 13 1 8 2 9 2"/><path class="i" d="M5 0 11 1"/><path class="j" d="M12 2 12 2"/><path class="m" d="M7 1 7 1"/></g>
<g id="so2" transform="translate(1328.300 766) scale(10.800)"><path class="o" d="M0 0H3V1H0Z"/><path class="h" d="M0 0 2 0"/><path class="a" d="M1 0 1 0"/></g>
<g id="n1" transform="translate(1160 884.300) scale(10.800)"><path class="o" d="M0 0H3V5H2V6H0Z"/><path class="a" d="M0 0 1 0 2 0 2 1 0 2 2 2 2 3 1 4 2 4"/><path class="b" d="M0 1 0 3"/><path class="c" d="M1 3 1 3"/><path class="h" d="M1 1 1 2 0 4"/><path class="l" d="M0 5 0 5"/><path class="i" d="M1 5 1 5"/></g>
<g id="n2" transform="translate(1158.300 958.300) scale(10.800)"><path class="o" d="M0 0H3V6H0Z"/><path class="a" d="M1 0 2 0 1 1 2 1 0 2 2 3 1 4 1 5"/><path class="b" d="M2 2 0 3 1 3"/><path class="c" d="M2 5 2 5"/><path class="h" d="M1 2 1 2"/></g>
<g id="n3" transform="translate(1210.700 871.700) scale(10.800)"><path class="o" d="M0 0H8V3H2V4H0Z"/><path class="a" d="M1 2 1 2"/><path class="b" d="M6 2 7 2"/><path class="c" d="M4 2 5 2"/><path class="e" d="M6 1 6 1"/><path class="h" d="M2 0 3 0 4 1 5 1"/><path class="i" d="M0 0 6 0"/><path class="j" d="M4 0 5 0 3 1 7 1"/><path class="k" d="M7 0 7 0"/><path class="m" d="M1 0 1 0"/></g>
<g id="n4" transform="translate(1201.300 919) scale(10.800)"><path class="o" d="M0 0H10V5H9V6H0Z"/><path class="a" d="M3 0 4 0 7 0 4 1 8 1 7 2 8 2 0 4 3 4 4 4 9 4"/><path class="b" d="M5 0 9 0 8 4 8 5"/><path class="c" d="M8 3 4 5"/><path class="e" d="M5 3 5 3"/><path class="f" d="M3 2 3 2"/><path class="g" d="M0 5 0 5"/><path class="h" d="M1 5 3 5 8 0"/><path class="i" d="M7 4 7 4"/><path class="j" d="M9 1 9 1"/><path class="k" d="M2 2 2 2"/><path class="m" d="M2 4 2 4"/></g>
<g id="n5" transform="translate(1210.700 992.300) scale(10.800)"><path class="o" d="M0 0H8V4H0Z"/><path class="a" d="M2 1 3 2 0 3 1 3 2 3"/><path class="b" d="M3 0 4 0 4 1 4 2"/><path class="d" d="M1 1 1 1"/><path class="h" d="M6 0 5 1 0 2 5 3 6 3 7 3"/><path class="i" d="M2 0 5 0 4 3"/><path class="j" d="M5 2 7 2"/></g>
<g id="n6" transform="translate(1320.700 904) scale(10.800)"><path class="o" d="M0 0H3V14H2V15H0Z"/><path class="a" d="M2 0 2 1 2 2 1 3 2 4 2 9 1 9 2 10 0 14"/><path class="b" d="M0 0 2 3 1 4 2 6"/><path class="c" d="M1 5 1 6 2 12"/><path class="d" d="M2 5 1 10 0 11"/><path class="h" d="M1 0 0 4 0 6 2 8 0 8 0 9 0 10"/><path class="j" d="M1 8 1 8"/><path class="l" d="M0 5 0 5"/><path class="m" d="M1 14 1 14"/></g>
<g id="aa1" transform="translate(355.700 767.300) scale(10.800)"><path class="o" d="M0 0H3V5H0Z"/><path class="c" d="M1 0 1 3"/><path class="m" d="M2 0 2 3"/><path class="i" d="M2 1 2 4"/><path class="a" d="M1 2 1 2"/></g>
<g id="aa2" transform="translate(357.300 836) scale(10.800)"><path class="o" d="M0 0H3V5H1V6H0Z"/><path class="a" d="M0 0 1 0 0 4 1 4"/><path class="b" d="M2 0 0 3 2 3"/><path class="h" d="M1 3 1 3"/><path class="i" d="M0 5 0 5"/></g>
<g id="aa3" transform="translate(405.700 709.300) scale(10.800)"><path class="o" d="M0 0H4V3H1V4H0Z"/><path class="a" d="M0 1 1 1"/><path class="b" d="M2 0 2 2"/><path class="c" d="M2 1 1 2 0 3"/><path class="d" d="M3 0 3 0"/><path class="g" d="M3 2 3 2"/><path class="h" d="M0 0 1 0 3 1"/></g>
<g id="aa4" transform="translate(410.700 767.300) scale(10.800)"><path class="o" d="M0 0H3V1H0Z"/><path class="c" d="M0 0 0 0"/><path class="a" d="M1 0 2 0"/></g>
<g id="aa5" transform="translate(407.700 789.300) scale(10.800)"><path class="o" d="M0 0H4V10H3V11H0Z"/><path class="a" d="M1 1 3 4 2 3 3 6 0 7"/><path class="b" d="M1 0 2 0 0 1 3 1 1 3 0 5 1 5 1 6 1 7 2 7 2 8 2 9"/><path class="c" d="M0 2 1 2 0 4 0 6 2 6 1 3 0 10 1 10"/><path class="d" d="M0 0 0 3 2 5 3 7"/><path class="e" d="M3 0 3 0"/><path class="f" d="M3 8 3 8"/><path class="g" d="M3 3 3 9"/><path class="h" d="M1 1 2 1 1 4 3 2 3 5 0 8 1 8 0 9 1 9 2 10"/><path class="i" d="M2 4 2 4"/></g>
<g id="aa6" transform="translate(405.700 919) scale(10.800)"><path class="o" d="M0 0H4V3H2V4H0Z"/><path class="g" d="M1 0 2 0 2 3 3 3"/><path class="i" d="M3 0 0 4"/><path class="h" d="M1 1 1 2 1 4"/><path class="a" d="M2 1 1 3"/></g>
<g id="aa7" transform="translate(403.300 982.300) scale(10.800)"><path class="o" d="M0 0H4V1H3V2H0Z"/><path class="e" d="M0 0 0 0"/><path class="a" d="M1 0 1 0"/><path class="b" d="M2 0 3 0 2 1"/></g>
<g id="aa8" transform="translate(405.700 1010.700) scale(10.800)"><path class="o" d="M0 0H4V2H1V3H0Z"/><path class="k" d="M0 0 0 0"/><path class="l" d="M1 0 1 0"/><path class="h" d="M2 0 1 1"/><path class="j" d="M3 0 2 1"/><path class="m" d="M3 1 3 1"/><path class="a" d="M0 2 0 2"/></g>
<g id="aa9" transform="translate(465 711) scale(10.800)"><path class="o" d="M0 0H3V6H0Z"/><path class="a" d="M0 1 1 2"/><path class="h" d="M2 1 2 2 1 5"/><path class="i" d="M2 3 2 3"/></g>
<g id="aa10" transform="translate(467.300 893.300) scale(10.800)"><path class="o" d="M0 0H3V2H2V3H0Z"/><path class="h" d="M1 0 1 1"/><path class="j" d="M2 0 2 0"/><path class="k" d="M1 2 1 2"/></g>
<g id="aa11" transform="translate(470.700 956.700) scale(10.800)"><path class="o" d="M0 0H1V1H0Z"/><path class="a" d="M0 0 0 0"/></g>
<g id="aa12" transform="translate(520.700 783.300) scale(10.800)"><path class="o" d="M0 0H3V8H0Z"/><path class="f" d="M0 0 1 0"/><path class="e" d="M2 0 1 1"/><path class="a" d="M2 1 0 4 1 5 0 7"/><path class="b" d="M0 2 0 2"/><path class="h" d="M1 2 1 2"/><path class="c" d="M1 4 1 6 1 7"/><path class="m" d="M2 4 2 4"/><path class="d" d="M2 7 2 7"/></g>
<g id="aa13" transform="translate(522.700 904.300) scale(10.800)"><path class="o" d="M0 0H3V7H0Z"/><path class="i" d="M1 0 1 4"/><path class="l" d="M2 1 0 2 0 6"/><path class="a" d="M1 2 1 3 1 5 2 5"/><path class="j" d="M2 3 0 5 1 6"/><path class="k" d="M0 4 0 4"/><path class="m" d="M2 4 2 6"/></g>
<g id="aa14" transform="translate(574.700 709.300) scale(10.800)"><path class="o" d="M0 0H7V4H1V5H0Z"/><path class="e" d="M0 0 0 0"/><path class="b" d="M1 0 2 0 4 1 2 3"/><path class="c" d="M4 0 5 0 3 1 5 1"/><path class="a" d="M6 0 4 2 5 2 6 2 0 3 1 3"/><path class="j" d="M6 1 0 2 1 2"/><path class="i" d="M2 2 4 3"/><path class="h" d="M3 2 3 3 0 4"/></g>
<g id="aa15" transform="translate(574.700 778.300) scale(10.800)"><path class="o" d="M0 0H7V1H6V2H0Z"/><path class="c" d="M1 0 2 0"/><path class="h" d="M4 0 5 0 2 1"/><path class="i" d="M6 0 5 1"/><path class="j" d="M4 1 4 1"/></g>
<g id="aa16" transform="translate(574.700 814) scale(10.800)"><path class="o" d="M0 0H7V3H0Z"/><path class="c" d="M1 0 0 1"/><path class="a" d="M3 0 3 0"/><path class="l" d="M5 0 6 0"/><path class="h" d="M5 1 5 1"/><path class="b" d="M0 2 0 2"/></g>
<g id="aa17" transform="translate(576.700 862.700) scale(10.800)"><path class="o" d="M0 0H7V1H2V2H0Z"/><path class="i" d="M0 0 0 0"/><path class="a" d="M1 0 3 0 4 0 0 1 1 1"/><path class="e" d="M2 0 2 0"/><path class="h" d="M5 0 5 0"/></g>
<g id="aa18" transform="translate(672.300 725.700) scale(10.800)"><path class="o" d="M0 0H3V7H2V8H0Z"/><path class="a" d="M0 0 1 0 2 0 2 1 1 3 2 3 0 4 2 4 2 5 2 6"/><path class="b" d="M1 1 1 1"/><path class="j" d="M2 2 0 3"/><path class="h" d="M1 4 0 6"/><path class="m" d="M0 5 0 5"/><path class="c" d="M1 5 1 5"/></g>
<g id="ab1" transform="translate(769 767.300) scale(10.800)"><path class="o" d="M0 0H2V1H0Z"/><path class="h" d="M0 0 1 0"/></g>
<g id="ab2" transform="translate(764.300 801.700) scale(10.800)"><path class="o" d="M0 0H3V6H0Z"/><path class="h" d="M0 0 1 0 0 3 2 3 1 5"/><path class="a" d="M1 1 2 1 1 3 2 4 0 5 2 5"/><path class="j" d="M1 4 1 4"/></g>
<g id="ab3" transform="translate(764.300 879.300) scale(10.800)"><path class="o" d="M0 0H3V9H2V10H0Z"/><path class="b" d="M0 0 1 4 1 5"/><path class="c" d="M1 0 1 0"/><path class="m" d="M2 0 2 0"/><path class="i" d="M2 1 2 2 2 5"/><path class="k" d="M0 2 0 2"/><path class="a" d="M1 3 1 6 2 7 2 8"/><path class="e" d="M0 6 0 6"/><path class="f" d="M1 7 1 7"/><path class="h" d="M1 9 1 9"/></g>
<g id="ab4" transform="translate(823.300 774.300) scale(10.800)"><path class="o" d="M0 0H5V1H1V2H0Z"/><path class="m" d="M1 0 1 0"/><path class="c" d="M2 0 3 0"/><path class="i" d="M4 0 4 0"/><path class="d" d="M0 1 0 1"/></g>
<g id="ab5" transform="translate(820 806.700) scale(10.800)"><path class="o" d="M0 0H5V7H3V8H0Z"/><path class="i" d="M4 0 4 1 0 2 3 2 2 3 2 7"/><path class="b" d="M1 1 2 4 0 6 4 6"/><path class="h" d="M2 1 3 5"/><path class="m" d="M3 1 3 1"/><path class="f" d="M4 2 1 3 0 5"/><path class="d" d="M4 3 4 3"/><path class="a" d="M1 4 3 4 4 4 2 5 4 5 1 6 3 6"/></g>
<g id="ab6" transform="translate(820 902.700) scale(10.800)"><path class="o" d="M0 0H5V2H1V3H0Z"/><path class="b" d="M0 0 0 1 1 1"/><path class="d" d="M2 0 2 0"/><path class="e" d="M4 0 2 1"/><path class="m" d="M3 1 3 1"/><path class="i" d="M4 1 4 1"/><path class="a" d="M0 2 0 2"/></g>
<g id="ab7" transform="translate(818.300 944) scale(10.800)"><path class="o" d="M0 0H5V7H1V8H0Z"/><path class="i" d="M0 0 1 1 4 1 1 2 4 5 4 2"/><path class="h" d="M1 0 2 0 1 5 2 5 0 7"/><path class="b" d="M0 1 2 2 1 3 3 5"/><path class="a" d="M2 1 0 2 0 3 3 4 4 4 2 6 0 4"/><path class="j" d="M3 3 4 3"/><path class="c" d="M1 6 3 6"/><path class="d" d="M4 6 4 6"/></g>
<g id="ab8" transform="translate(892.300 769.300) scale(10.800)"><path class="o" d="M0 0H5V8H3V9H0Z"/><path class="c" d="M1 0 1 0"/><path class="b" d="M3 0 3 5 4 6"/><path class="i" d="M4 0 0 1 0 4 2 8"/><path class="h" d="M1 1 3 1 4 2 0 3 0 5 2 5 0 8 1 8"/><path class="a" d="M4 1 0 2 1 2 3 2 3 4 0 6 3 6 0 7 4 7"/><path class="j" d="M3 3 4 3 4 5"/></g>
<g id="ab9" transform="translate(892.300 876) scale(10.800)"><path class="o" d="M0 0H3V1H0Z"/><path class="h" d="M0 0 2 0"/><path class="a" d="M1 0 1 0"/></g>
<g id="ab10" transform="translate(892.300 896) scale(10.800)"><path class="o" d="M0 0H5V1H1V2H0Z"/><path class="i" d="M0 0 1 0 3 0"/><path class="h" d="M2 0 0 1"/><path class="a" d="M4 0 4 0"/></g>
<g id="ab11" transform="translate(892.300 926) scale(10.800)"><path class="o" d="M0 0H5V2H2V3H0Z"/><path class="i" d="M0 0 3 0 4 0 0 1 1 1 3 1"/><path class="l" d="M1 0 1 0"/><path class="k" d="M2 0 2 0"/><path class="a" d="M2 1 0 2"/><path class="h" d="M4 1 4 1"/><path class="b" d="M1 2 1 2"/></g>
<g id="ab12" transform="translate(892.300 969.300) scale(10.800)"><path class="o" d="M0 0H5V1H2V2H0Z"/><path class="i" d="M0 0 4 0"/><path class="l" d="M1 0 1 0"/><path class="k" d="M2 0 2 0"/><path class="a" d="M0 1 1 1"/></g>
<g id="ab13" transform="translate(967.700 775) scale(10.800)"><path class="o" d="M0 0H3V2H0Z"/><path class="a" d="M0 0 2 0 0 1"/><path class="b" d="M1 0 2 1"/></g>
<g id="ab14" transform="translate(967.700 812.700) scale(10.800)"><path class="o" d="M0 0H3V7H0Z"/><path class="a" d="M0 0 1 0 2 0 0 3 2 4 0 5 0 6"/><path class="c" d="M2 1 1 5"/><path class="m" d="M0 2 0 2"/><path class="h" d="M2 2 2 2"/><path class="b" d="M1 3 1 4 2 6"/></g>
<g id="ab15" transform="translate(970 910) scale(10.800)"><path class="o" d="M0 0H2V1H0Z"/><path class="a" d="M0 0 1 0"/></g>
<g id="ab16" transform="translate(1022 809.300) scale(10.800)"><path class="o" d="M0 0H3V3H0Z"/><path class="a" d="M1 0 1 0"/><path class="i" d="M2 0 2 1"/><path class="l" d="M0 1 0 1"/><path class="h" d="M2 2 2 2"/></g>
<g id="ab17" transform="translate(1022 866.700) scale(10.800)"><path class="o" d="M0 0H3V9H2V10H0Z"/><path class="i" d="M0 0 2 0 0 3 2 3 2 5"/><path class="h" d="M1 0 0 1 0 2 2 2 2 4 0 7 1 7 2 7"/><path class="b" d="M2 1 0 4 0 8 2 8"/><path class="a" d="M1 2 1 3 0 5"/><path class="j" d="M1 5 1 5"/><path class="c" d="M1 8 1 9"/><path class="d" d="M0 9 0 9"/></g>
<g id="ab18" transform="translate(1076 769.300) scale(10.800)"><path class="o" d="M0 0H3V1H0Z"/><path class="a" d="M0 0 0 0"/><path class="b" d="M1 0 1 0"/><path class="j" d="M2 0 2 0"/></g>
</g>
<g id="legend">
<path d="M1537 27V252H1592" stroke="#c4c4c4" stroke-width="1.500"/>
<rect x="1546.500" y="35" width="8.500" height="202" fill="url(#lg)"/>
<path d="M1557 36H1562M1557 86H1562M1557 136H1562M1557 186H1562M1557 236H1562" stroke="#555" stroke-width="1.500"/>
<text x="1566" y="45" font-size="18" style="fill:#555">-2</text><text x="1566" y="95" font-size="18" style="fill:#555">-1</text><text x="1572" y="145" font-size="18" style="fill:#555">0</text><text x="1572" y="195" font-size="18" style="fill:#555">1</text><text x="1572" y="245" font-size="18" style="fill:#555">2</text>
</g>
<g id="labels">
<text class="B" x="351" y="38" font-size="29" textLength="170" lengthAdjust="spacingAndGlyphs">minor CHO</text>
<text class="B" transform="translate(19 155) rotate(90)" font-size="29" textLength="127" lengthAdjust="spacingAndGlyphs">Cell wall</text>
<text class="B" transform="translate(19 433) rotate(90)" font-size="29" textLength="94" lengthAdjust="spacingAndGlyphs">Lipids</text>
<text class="B" transform="translate(13 748) rotate(90)" font-size="29" textLength="221" lengthAdjust="spacingAndGlyphs">2° Metabolism</text>
<text class="B" x="897" y="70" font-size="28" textLength="88" lengthAdjust="spacingAndGlyphs">Starch</text>
<text class="B" x="897" y="191" font-size="28" textLength="111" lengthAdjust="spacingAndGlyphs">Sucrose</text>
<text class="B" x="897" y="259" font-size="28" textLength="58" lengthAdjust="spacingAndGlyphs">OPP</text>
<text class="B" x="1000" y="26" font-size="20" textLength="218" lengthAdjust="spacingAndGlyphs">Ascorbate, Glutathione</text>
<text class="B" x="1266" y="31" font-size="26" textLength="60" lengthAdjust="spacingAndGlyphs">Light</text>
<text class="B" x="1266" y="62" font-size="26" textLength="118" lengthAdjust="spacingAndGlyphs">Reactions</text>
<text class="B" x="1261.500" y="345" font-size="21" textLength="172" lengthAdjust="spacingAndGlyphs">Photorespiration</text>
<text class="B" x="1247" y="436" font-size="29" textLength="165" lengthAdjust="spacingAndGlyphs">Tetrapyrrole</text>
<text class="B" x="1003" y="422" font-size="21" textLength="134" lengthAdjust="spacingAndGlyphs">Fermentation</text>
<text class="B" x="1199" y="537" font-size="21" textLength="250" lengthAdjust="spacingAndGlyphs">Mito. Electron Transport</text>
<text class="B" x="1230" y="621" font-size="20" textLength="218" lengthAdjust="spacingAndGlyphs">Carbonic anhydrases</text>
<text class="B" x="598" y="607" font-size="33" textLength="65" lengthAdjust="spacingAndGlyphs">TCA</text>
<text class="B" x="361" y="686" font-size="30" textLength="197" lengthAdjust="spacingAndGlyphs">Amino Acids</text>
<text class="B" x="1391" y="692" font-size="31">NO<tspan font-size="30" dy="10" font-weight="normal">3</tspan></text>
<text class="B" x="1419" y="730" font-size="20">NH<tspan font-size="12" dy="3" font-weight="normal">3</tspan></text>
<text class="B" x="1394" y="781" font-size="32">SO<tspan font-size="29" dy="11" font-weight="normal">4</tspan></text>
<text class="B" x="1416" y="822" font-size="22" textLength="37" lengthAdjust="spacingAndGlyphs">C-1</text>
<text class="B" x="1385" y="844" font-size="22" textLength="69" lengthAdjust="spacingAndGlyphs">Metab</text>
<text class="B" x="1365" y="916" font-size="25" textLength="91" lengthAdjust="spacingAndGlyphs">Nucleo-</text>
<text class="B" x="1397" y="946" font-size="25" textLength="57" lengthAdjust="spacingAndGlyphs">tides</text>
<text x="1589.500" y="642" font-size="46">Cotton</text>
<text class="S" x="67" y="758" textLength="56">Waxes</text><text class="S" x="150" y="770" textLength="77">Terpenes</text><text class="S" x="65" y="923" textLength="58">N-misc</text><text class="S" x="146" y="898" textLength="94">Flavonoids</text><text class="S" x="65" y="1010" textLength="57">S-misc</text><text class="S" x="68" y="1064" textLength="39">misc</text><text class="S" x="140" y="1032" textLength="173">Phenylpropanoids &amp;</text><text class="S" x="185" y="1053" textLength="84">Phenolics</text>
<text class="L" x="357.300" y="1108">Gln</text><text class="L" x="357.300" y="1128">Pro</text><text class="L" x="357.300" y="1148">Arg</text><text class="L" x="357.300" y="1168">misc</text><text class="L" x="357.300" y="1187">Hyp</text>
<text class="L" x="415" y="1108">Asn</text><text class="L" x="415" y="1128">Thr</text><text class="L" x="415" y="1148">Met</text><text class="L" x="415" y="1168">Lys</text><text class="L" x="415" y="1187">misc</text>
<text class="L" x="469.300" y="1108">Val</text><text class="L" x="469.300" y="1128">Leu</text><text class="L" x="469.300" y="1147">Ile</text>
<text class="L" x="525" y="1108">Ser</text><text class="L" x="525" y="1128">Gly</text><text class="L" x="525" y="1148">Cys</text><text class="L" x="525" y="1168">misc</text>
<text class="L" x="599" y="1108">Phe</text><text class="L" x="599" y="1128">Tyr</text><text class="L" x="599" y="1148">Trp</text><text class="L" x="599" y="1168">misc</text>
<text class="L" x="680.700" y="1108">His</text>
<text class="L" x="763.300" y="1108">Gln</text><text class="L" x="763.300" y="1128">Pro</text><text class="L" x="763.300" y="1148">Arg</text><text class="L" x="763.300" y="1168">misc</text><text class="L" x="763.300" y="1187">Hyp</text>
<text class="L" x="830.700" y="1108">Asn</text><text class="L" x="830.700" y="1128">Thr</text><text class="L" x="830.700" y="1148">Met</text><text class="L" x="830.700" y="1168">Lys</text><text class="L" x="830.700" y="1187">misc</text>
<text class="L" x="906.700" y="1108">Val</text><text class="L" x="906.700" y="1128">Leu</text><text class="L" x="906.700" y="1147">Ile</text>
<text class="L" x="972.300" y="1106">Ser</text><text class="L" x="972.300" y="1125">Gly</text><text class="L" x="972.300" y="1144">Cys</text><text class="L" x="972.300" y="1163">misc</text>
<text class="L" x="1028" y="1108">Phe</text><text class="L" x="1028" y="1128">Tyr</text><text class="L" x="1028" y="1148">Trp</text><text class="L" x="1028" y="1168">misc</text>
<text class="L" x="1084.300" y="1108">His</text>
</g>
</svg>
